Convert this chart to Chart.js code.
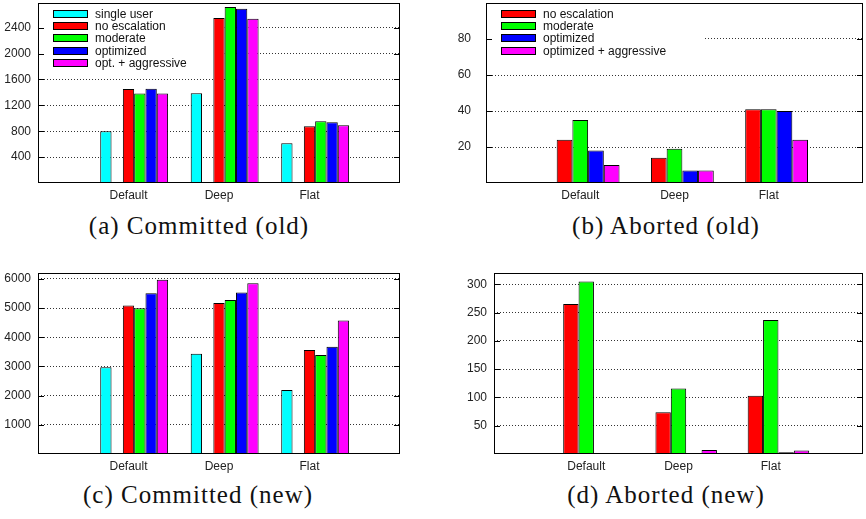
<!DOCTYPE html>
<html>
<head>
<meta charset="utf-8">
<script src="https://cdn.jsdelivr.net/npm/chart.js@4.4.0/dist/chart.umd.min.js"></script>
<style>
  body { margin: 0; background: #fff; width: 866px; height: 519px; position: relative; overflow: hidden; }
  canvas { position: absolute; }
  .cap { position: absolute; font-family: "Liberation Serif", serif; font-size: 25px; letter-spacing: 1px; color: #111; white-space: nowrap; transform: translate(-50%, -50%); }
</style>
</head>
<body>
<canvas id="ca" width="433" height="210" style="left:0;top:0"></canvas>
<canvas id="cb" width="433" height="210" style="left:433px;top:0"></canvas>
<canvas id="cc" width="433" height="210" style="left:0;top:270px"></canvas>
<canvas id="cd" width="433" height="210" style="left:433px;top:270px"></canvas>
<div class="cap" style="left:199px;top:226px">(a) Committed (old)</div>
<div class="cap" style="left:666px;top:226px">(b) Aborted (old)</div>
<div class="cap" style="left:198px;top:495px">(c) Committed (new)</div>
<div class="cap" style="left:666px;top:495px">(d) Aborted (new)</div>
<script>
var groups = ['Default', 'Deep', 'Flat'];

// (a) committed, old
var aSingle = [800, 1388, 612];
var aNoEsc = [1450, 2550, 876];
var aModerate = [1381, 2720, 953];
var aOptimized = [1454, 2690, 938];
var aAggressive = [1381, 2535, 891];
var aTicks = [400, 800, 1200, 1600, 2000, 2400];

// (b) aborted, old
var bNoEsc = [24, 14, 41];
var bModerate = [35, 19, 41];
var bOptimized = [18, 7, 40];
var bAggressive = [10, 7, 24];
var bTicks = [20, 40, 60, 80];

// (c) committed, new
var cSingle = [2970, 3430, 2190];
var cNoEsc = [5085, 5176, 3563];
var cModerate = [4993, 5279, 3391];
var cOptimized = [5508, 5531, 3677];
var cAggressive = [5973, 5852, 4570];
var cTicks = [1000, 2000, 3000, 4000, 5000, 6000];

// (d) aborted, new
var dNoEsc = [265, 74, 103];
var dModerate = [305, 116, 237];
var dOptimized = [0, 0, 3];
var dAggressive = [1, 7, 6];
var dTicks = [50, 100, 150, 200, 250, 300];

var CYAN = '#00ffff', RED = '#ff0000', GREEN = '#00ff00', BLUE = '#0000ff', MAGENTA = '#ff00ff';

Chart.defaults.font.family = '"Liberation Sans", Arial, sans-serif';
Chart.defaults.font.size = 12;
Chart.defaults.color = '#222';

// one empty category on each side, like gnuplot's xrange [-1:3]
var xLabels = [''].concat(groups, ['']);
function pad(arr) {
  return [null].concat(arr, [null]);
}

function ds(label, data, color) {
  return {
    label: label,
    data: data ? pad(data) : [null, null, null, null, null],
    backgroundColor: color || 'rgba(0,0,0,0)',
    borderColor: '#000',
    borderWidth: 1,
    barPercentage: 1
  };
}

// frame, mirrored tick marks and the inside key
var framePlugin = {
  id: 'frame',
  beforeDatasetsDraw: function(chart, args, opts) {
    if (!opts.legend) return;
    var ctx = chart.ctx, a = chart.chartArea;
    var items = chart.data.datasets.filter(function(d) { return d.label; });
    ctx.save();
    ctx.font = '12px "Liberation Sans", Arial, sans-serif';
    var w = 0;
    items.forEach(function(d) { w = Math.max(w, ctx.measureText(d.label).width); });
    ctx.fillStyle = '#fff';
    ctx.fillRect(a.left + 1, a.top + 1, w + 57 + 37, 9 + items.length * 12.2);
    ctx.restore();
  },
  afterDatasetsDraw: function(chart, args, opts) {
    var ctx = chart.ctx, a = chart.chartArea;
    var y = chart.scales.y;
    ctx.save();
    ctx.strokeStyle = '#000';
    ctx.lineWidth = 1;
    ctx.beginPath();
    y.ticks.forEach(function(t) {
      var py = Math.round(y.getPixelForValue(t.value)) + 0.5;
      ctx.moveTo(a.left, py); ctx.lineTo(a.left + 6, py);
      ctx.moveTo(a.right - 6, py); ctx.lineTo(a.right, py);
    });
    ctx.stroke();
    ctx.strokeRect(a.left + 0.5, a.top + 0.5, a.right - a.left - 1, a.bottom - a.top - 1);

    if (opts.legend) {
      var items = chart.data.datasets.filter(function(d) { return d.label; });
      ctx.font = '12px "Liberation Sans", Arial, sans-serif';
      ctx.textBaseline = 'middle';
      items.forEach(function(d, i) {
        var ry = Math.round(a.top + 11 + i * 12.2);
        ctx.fillStyle = d.backgroundColor;
        ctx.fillRect(a.left + 15, ry - 3.5, 35, 7);
        ctx.strokeRect(a.left + 15.5, ry - 3.5, 34, 7);
        ctx.fillStyle = '#111';
        ctx.fillText(d.label, a.left + 57, ry + 0.5);
      });
    }
    ctx.restore();
  }
};

function makeChart(id, datasets, o) {
  return new Chart(document.getElementById(id), {
    type: 'bar',
    data: { labels: xLabels, datasets: datasets },
    options: {
      responsive: false,
      animation: false,
      devicePixelRatio: 1,
      categoryPercentage: o.catPct,
      layout: { padding: { top: 3, right: o.right, left: 0, bottom: 0 } },
      plugins: {
        legend: { display: false },
        tooltip: { enabled: false },
        frame: { legend: o.legend }
      },
      scales: {
        x: {
          offset: false,
          grid: { display: false, drawTicks: false },
          border: { display: false },
          ticks: { padding: 5, maxRotation: 0, autoSkip: false, color: '#222' },
          afterFit: function(s) { s.height = o.xh; s.paddingLeft = 0; s.paddingRight = 0; }
        },
        y: {
          min: 0,
          max: o.max,
          grid: { color: '#333', lineWidth: 1, drawTicks: false },
          border: { display: false, dash: [1, 2] },
          ticks: { padding: o.yPad, color: '#222', callback: function(v) { return String(v); } },
          afterBuildTicks: function(s) { s.ticks = o.ticks.map(function(v) { return { value: v }; }); },
          afterFit: function(s) { s.width = o.yw; s.paddingTop = 0; s.paddingBottom = 0; }
        }
      }
    },
    plugins: [framePlugin]
  });
}

makeChart('ca', [
  ds(''), ds('single user', aSingle, CYAN), ds(''),
  ds('no escalation', aNoEsc, RED), ds('moderate', aModerate, GREEN),
  ds('optimized', aOptimized, BLUE), ds('opt. + aggressive', aAggressive, MAGENTA)
], { catPct: 7 / 8, right: 33, xh: 27, yw: 38, yPad: 7, max: 2780, ticks: aTicks, legend: true });

makeChart('cb', [
  ds(''),
  ds('no escalation', bNoEsc, RED), ds('moderate', bModerate, GREEN),
  ds('optimized', bOptimized, BLUE), ds('optimized + aggressive', bAggressive, MAGENTA)
], { catPct: 5 / 6, right: 3, xh: 27, yw: 53, yPad: 15, max: 100, ticks: bTicks, legend: true });

makeChart('cc', [
  ds(''), ds('single user', cSingle, CYAN), ds(''),
  ds('no escalation', cNoEsc, RED), ds('moderate', cModerate, GREEN),
  ds('optimized', cOptimized, BLUE), ds('opt. + aggressive', cAggressive, MAGENTA)
], { catPct: 7 / 8, right: 33, xh: 26, yw: 38, yPad: 7, max: 6200, ticks: cTicks, legend: false });

makeChart('cd', [
  ds(''),
  ds('no escalation', dNoEsc, RED), ds('moderate', dModerate, GREEN),
  ds('optimized', dOptimized, BLUE), ds('optimized + aggressive', dAggressive, MAGENTA)
], { catPct: 5 / 6, right: 3, xh: 26, yw: 61, yPad: 7, max: 320, ticks: dTicks, legend: false });
</script>
</body>
</html>
